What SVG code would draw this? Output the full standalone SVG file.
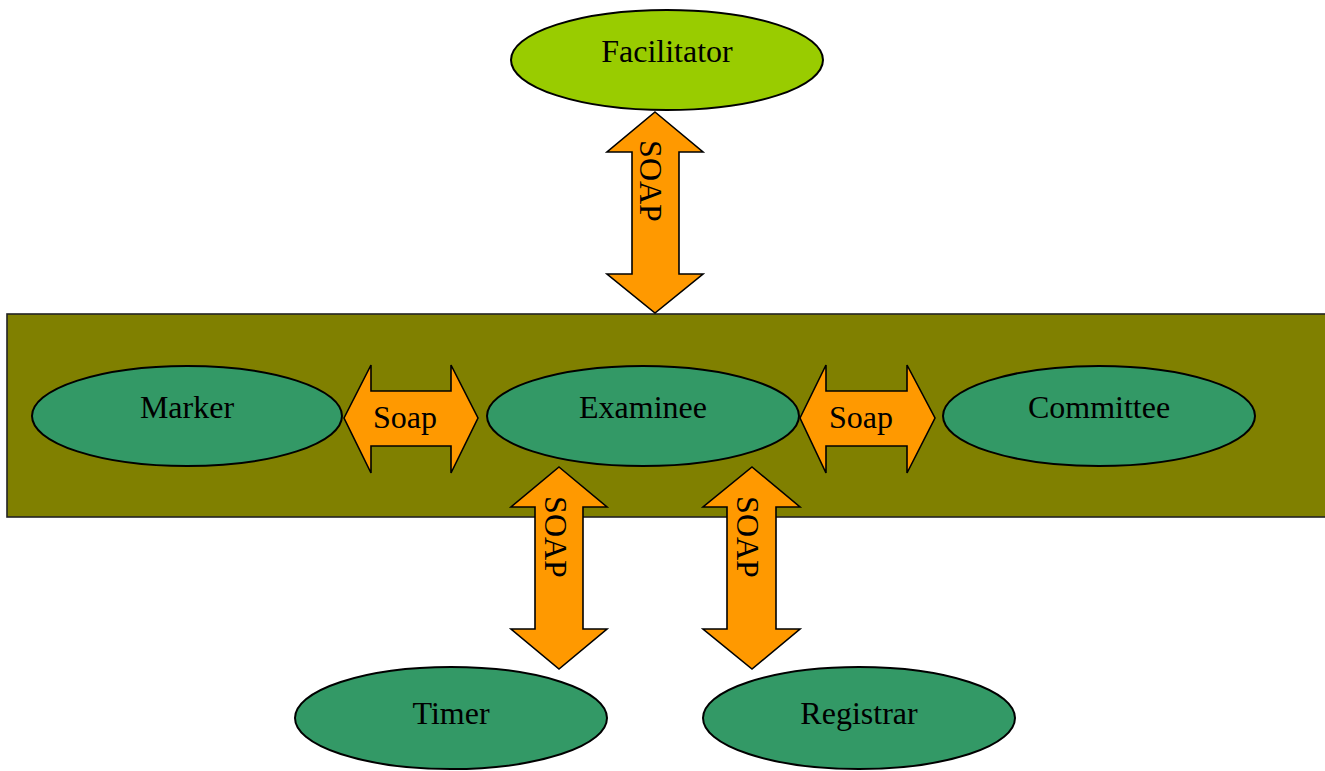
<svg xmlns="http://www.w3.org/2000/svg" width="1325" height="771" viewBox="0 0 1325 771">
  <style>
    .lbl { font-family: "Liberation Serif", "Times New Roman", serif; font-size: 32px; fill: #000; }
    .node { fill: #339966; stroke: #000; stroke-width: 2; }
    .arrow { fill: #FF9900; stroke: #000; stroke-width: 1.6; stroke-linejoin: miter; }
  </style>
  <rect width="1325" height="771" fill="#fff"/>

  <!-- service bus container -->
  <g id="container">
    <rect x="7" y="314" width="1330" height="203" fill="#808000" stroke="#222" stroke-width="1.6"/>
  </g>

  <g id="facilitator">
    <ellipse cx="667" cy="60" rx="156" ry="50" fill="#99CC00" stroke="#000" stroke-width="2"/>
    <text class="lbl" x="667" y="62" text-anchor="middle">Facilitator</text>
  </g>
  <g id="marker">
    <ellipse class="node" cx="187" cy="416" rx="155" ry="50"/>
    <text class="lbl" x="187" y="418" text-anchor="middle">Marker</text>
  </g>
  <g id="examinee">
    <ellipse class="node" cx="643" cy="416" rx="156" ry="50"/>
    <text class="lbl" x="643" y="418" text-anchor="middle">Examinee</text>
  </g>
  <g id="committee">
    <ellipse class="node" cx="1099" cy="416" rx="156" ry="50"/>
    <text class="lbl" x="1099" y="418" text-anchor="middle">Committee</text>
  </g>
  <g id="timer">
    <ellipse class="node" cx="451" cy="718" rx="156" ry="51"/>
    <text class="lbl" x="451" y="724" text-anchor="middle">Timer</text>
  </g>
  <g id="registrar">
    <ellipse class="node" cx="859" cy="718" rx="156" ry="51"/>
    <text class="lbl" x="859" y="724" text-anchor="middle">Registrar</text>
  </g>

  <!-- double-headed block arrows -->
  <g id="connectors">
    <g id="facilitator-examinee">
      <polygon class="arrow" points="655,112 703,152 679,152 679,274 703,274 655,313 607,274 632,274 632,152 607,152"/>
      <text class="lbl" transform="translate(640,181) rotate(90)" text-anchor="middle">SOAP</text>
    </g>
    <g id="marker-examinee">
      <polygon class="arrow" points="344,418 371,365 371,391 451,391 451,365 478,418 451,473 451,446 371,446 371,473"/>
      <text class="lbl" x="405" y="428" text-anchor="middle">Soap</text>
    </g>
    <g id="examinee-committee">
      <polygon class="arrow" points="800,418 826,365 826,391 907,391 907,365 935,418 907,473 907,446 826,446 826,473"/>
      <text class="lbl" x="861" y="428" text-anchor="middle">Soap</text>
    </g>
    <g id="examinee-timer">
      <polygon class="arrow" points="559,467 607,507 583,507 583,629 607,629 559,669 511,629 535,629 535,507 511,507"/>
      <text class="lbl" transform="translate(545,537) rotate(90)" text-anchor="middle">SOAP</text>
    </g>
    <g id="examinee-registrar">
      <polygon class="arrow" points="752,467 800,507 776,507 776,629 800,629 752,669 703,629 727,629 727,507 703,507"/>
      <text class="lbl" transform="translate(737,537) rotate(90)" text-anchor="middle">SOAP</text>
    </g>
  </g>
</svg>
